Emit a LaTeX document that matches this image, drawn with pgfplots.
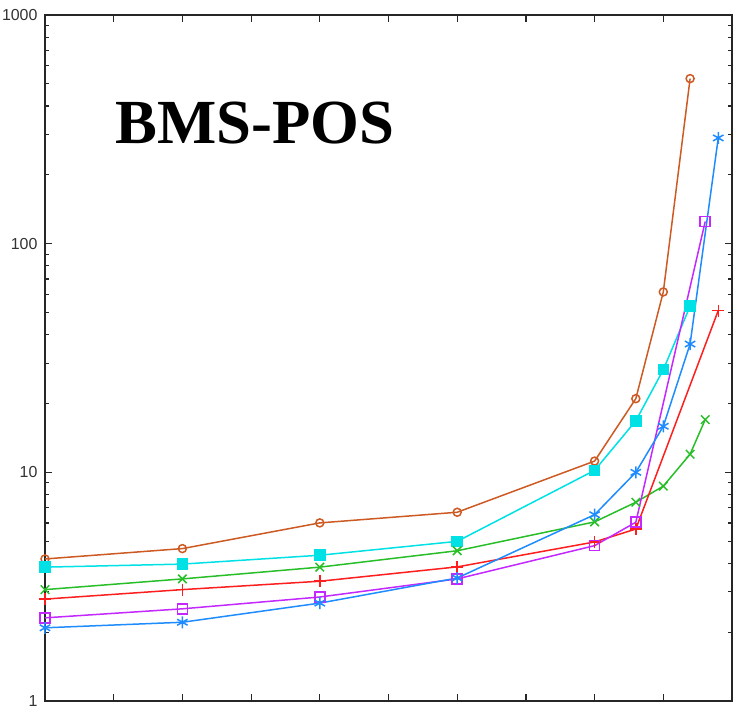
\documentclass[border=0pt]{standalone}
\usepackage{fontspec}
\setmainfont{Liberation Sans}
\newfontfamily\titlefont{Liberation Serif}
\usepackage{pgfplots}
\pgfplotsset{compat=1.18}
\usetikzlibrary{calc}

\definecolor{cbrown}{RGB}{205,90,35}
\definecolor{ccyan}{RGB}{0,225,230}
\definecolor{cgreen}{RGB}{40,190,40}
\definecolor{cred}{RGB}{255,30,30}
\definecolor{cpurple}{RGB}{195,40,255}
\definecolor{cblue}{RGB}{30,140,255}

\begin{document}
\begin{tikzpicture}
\begin{axis}[name=ax,
  width=687bp, height=686bp, scale only axis,
  ymode=log, xmin=0, xmax=1, ymin=1, ymax=1000,
  clip=false,
  axis line style={line width=1.6bp, black!85},
  xtick={0,0.1,0.2,0.3,0.4,0.5,0.6,0.7,0.8,0.9,1}, xticklabels={},
  ytick={1,10,100,1000}, yticklabels={1,10,100,1000},
  tick align=inside, tick pos=both,
  major tick length=7bp, minor tick length=4bp,
  every tick/.style={line width=1.2bp, black!85},
  /pgf/number format/assume math mode=true,
  yticklabel style={font=\fontsize{16}{16}\selectfont, text=black!80, xshift=-4bp},
  every axis plot/.append style={line width=1.5bp},
  mark options={solid},
]
% brown, open circle
\addplot[cbrown, mark=o, mark size=4bp] coordinates {
(0,4.18)(0.2,4.64)(0.4,6.01)(0.6,6.69)(0.8,11.2)(0.86,21.0)(0.9,61.5)(0.939,527)};
% cyan, filled square
\addplot[ccyan, mark=square*, mark size=5bp] coordinates {
(0,3.85)(0.2,3.97)(0.4,4.34)(0.6,4.99)(0.8,10.2)(0.86,16.8)(0.9,28.1)(0.939,53.3)};
% green, cross
\addplot[cgreen, mark=x, mark size=6bp] coordinates {
(0,3.07)(0.2,3.42)(0.4,3.85)(0.6,4.54)(0.8,6.07)(0.86,7.40)(0.9,8.70)(0.939,12.0)(0.961,17.0)};
% red, plus
\addplot[cred, mark=+, mark size=6bp] coordinates {
(0,2.79)(0.2,3.07)(0.4,3.34)(0.6,3.86)(0.8,4.96)(0.86,5.65)(0.98,51.0)};
% purple, open square
\addplot[cpurple, mark=square, mark size=5bp] coordinates {
(0,2.31)(0.2,2.53)(0.4,2.85)(0.6,3.42)(0.8,4.78)(0.86,6.05)(0.961,125)};
% blue, asterisk
\addplot[cblue, mark=asterisk, mark size=6bp] coordinates {
(0,2.09)(0.2,2.21)(0.4,2.68)(0.6,3.45)(0.8,6.53)(0.86,10.0)(0.9,15.9)(0.939,36.4)(0.98,290)};
\node[font=\titlefont\bfseries\fontsize{63}{63}\selectfont, inner sep=0pt]
  at (rel axis cs:0.306,0.842) {BMS-POS};
\end{axis}
\pgfresetboundingbox
\path ($(ax.south west)+(-45bp,-9bp)$) rectangle ($(ax.north east)+(1bp,15bp)$);
\end{tikzpicture}
\end{document}
